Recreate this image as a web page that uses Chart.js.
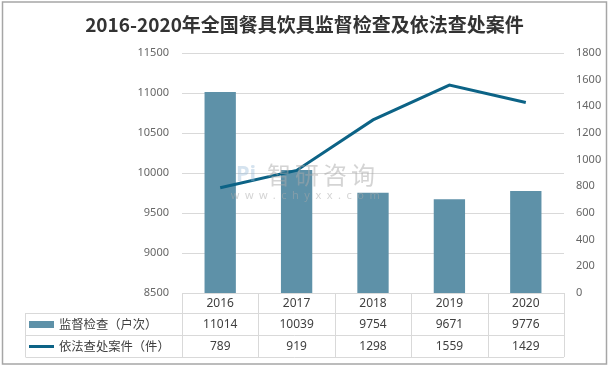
<!DOCTYPE html>
<html>
<head>
<meta charset="utf-8">
<script src="https://cdn.jsdelivr.net/npm/chart.js@4.4.1/dist/chart.umd.min.js"></script>
<style>
  html, body { margin: 0; padding: 0; background: #fff; }
  #wrap { width: 609px; height: 366px; }
</style>
</head>
<body>
<div id="wrap"><canvas id="c" width="609" height="366"></canvas></div>
<script>
// data
var years       = ['2016', '2017', '2018', '2019', '2020'];
var inspections = [11014, 10039, 9754, 9671, 9776];   // 监督检查（户次）
var cases       = [789, 919, 1298, 1559, 1429];       // 依法查处案件（件）
var seriesNames = ['监督检查（户次）', '依法查处案件（件）'];

var barColor  = '#5e91a8';
var lineColor = '#0c6386';
var gridColor = '#d9d9d9';
var textColor = '#404040';

var FONT = '"Noto Sans", "Noto Sans CJK SC", sans-serif';
var CJK  = '"Noto Sans CJK SC", "Noto Sans", sans-serif';

function plain(v) { return String(v); }

// data table under the plot + frame + watermark
var tablePlugin = {
    id: 'dataTable',
    afterDraw: function (chart) {
        var ctx = chart.ctx;
        var area = chart.chartArea;
        var x = chart.scales.x;
        var left = 25.5, rowH = [20, 22, 22];
        var y0 = area.bottom, y1 = y0 + rowH[0], y2 = y1 + rowH[1], y3 = y2 + rowH[2];
        var step = (area.right - area.left) / years.length;

        ctx.save();
        // watermark
        ctx.fillStyle = 'rgba(170,170,170,0.5)';
        ctx.textAlign = 'center';
        ctx.textBaseline = 'middle';
        ctx.font = '24px ' + CJK;
        ctx.letterSpacing = '4px';
        ctx.fillText('智研咨询', 323, 175);
        ctx.font = '11px ' + FONT;
        ctx.letterSpacing = '5.5px';
        ctx.fillText('www.chyxx.com', 308, 196);
        ctx.letterSpacing = '0px';
        ctx.fillStyle = 'rgba(150,185,215,0.4)';
        ctx.font = 'bold 22px ' + FONT;
        ctx.fillText('Pi', 246, 175);

        // grid of the table
        ctx.strokeStyle = gridColor;
        ctx.lineWidth = 1;
        ctx.beginPath();
        ctx.moveTo(area.left, y0 + 0.5); ctx.lineTo(area.right, y0 + 0.5);
        [y1, y2, y3].forEach(function (yy) {
            ctx.moveTo(left, Math.round(yy) + 0.5); ctx.lineTo(area.right, Math.round(yy) + 0.5);
        });
        ctx.moveTo(left, y1); ctx.lineTo(left, y3);
        for (var i = 0; i <= years.length; i++) {
            var vx = Math.round(area.left + step * i) + 0.5;
            ctx.moveTo(vx, y0); ctx.lineTo(vx, y3);
        }
        ctx.stroke();

        // header and values
        ctx.fillStyle = textColor;
        ctx.font = '12px ' + FONT;
        ctx.textAlign = 'center';
        ctx.textBaseline = 'middle';
        for (var j = 0; j < years.length; j++) {
            var cx = x.getPixelForValue(j);
            ctx.fillText(years[j], cx, (y0 + y1) / 2 + 1);
            ctx.fillText(String(inspections[j]), cx, (y1 + y2) / 2 + 1);
            ctx.fillText(String(cases[j]), cx, (y2 + y3) / 2 + 1);
        }

        // legend keys
        ctx.fillStyle = barColor;
        ctx.fillRect(29, (y1 + y2) / 2 - 3, 25, 7);
        ctx.strokeStyle = lineColor;
        ctx.lineWidth = 3;
        ctx.beginPath();
        ctx.moveTo(29, (y2 + y3) / 2 + 0.5);
        ctx.lineTo(54, (y2 + y3) / 2 + 0.5);
        ctx.stroke();
        ctx.fillStyle = textColor;
        ctx.font = '12.3px ' + CJK;
        ctx.textAlign = 'left';
        ctx.fillText(seriesNames[0], 59, (y1 + y2) / 2 + 0.5);
        ctx.fillText(seriesNames[1], 59, (y2 + y3) / 2 + 0.5);

        // outer frame
        ctx.strokeStyle = '#a6a6a6';
        ctx.lineWidth = 1.5;
        ctx.strokeRect(2.5, 2, 604, 362);
        ctx.restore();
    }
};

new Chart(document.getElementById('c').getContext('2d'), {
    type: 'bar',
    data: {
        labels: years,
        datasets: [
            {
                type: 'line',
                label: seriesNames[1],
                data: cases,
                yAxisID: 'y1',
                borderColor: lineColor,
                backgroundColor: lineColor,
                borderWidth: 3,
                pointRadius: 0,
                tension: 0,
                order: 0
            },
            {
                label: seriesNames[0],
                data: inspections,
                yAxisID: 'y',
                backgroundColor: barColor,
                barPercentage: 0.41,
                categoryPercentage: 1,
                order: 1
            }
        ]
    },
    options: {
        responsive: false,
        animation: false,
        layout: { padding: 0 },
        plugins: {
            legend: { display: false },
            tooltip: { enabled: false },
            title: {
                display: true,
                text: '2016-2020年全国餐具饮具监督检查及依法查处案件',
                color: '#333333',
                font: { family: CJK, size: 19, weight: 'bold', lineHeight: 1.2 },
                padding: { top: 13, bottom: 17.2 }
            }
        },
        scales: {
            x: {
                ticks: { display: false },
                grid: { display: false },
                border: { display: false },
                afterFit: function (s) { s.height = 73; }
            },
            y: {
                position: 'left',
                min: 8500,
                max: 11500,
                ticks: { stepSize: 500, callback: plain, color: '#666666', padding: 13, font: { family: FONT, size: 11 } },
                grid: { color: gridColor, drawTicks: false },
                border: { display: false },
                afterFit: function (s) { s.width = 182; }
            },
            y1: {
                position: 'right',
                min: 0,
                max: 1800,
                ticks: { stepSize: 200, callback: plain, color: '#666666', padding: 12, font: { family: FONT, size: 11 } },
                grid: { drawOnChartArea: false, drawTicks: false },
                border: { display: false },
                afterFit: function (s) { s.width = 45; }
            }
        }
    },
    plugins: [tablePlugin]
});
</script>
</body>
</html>
